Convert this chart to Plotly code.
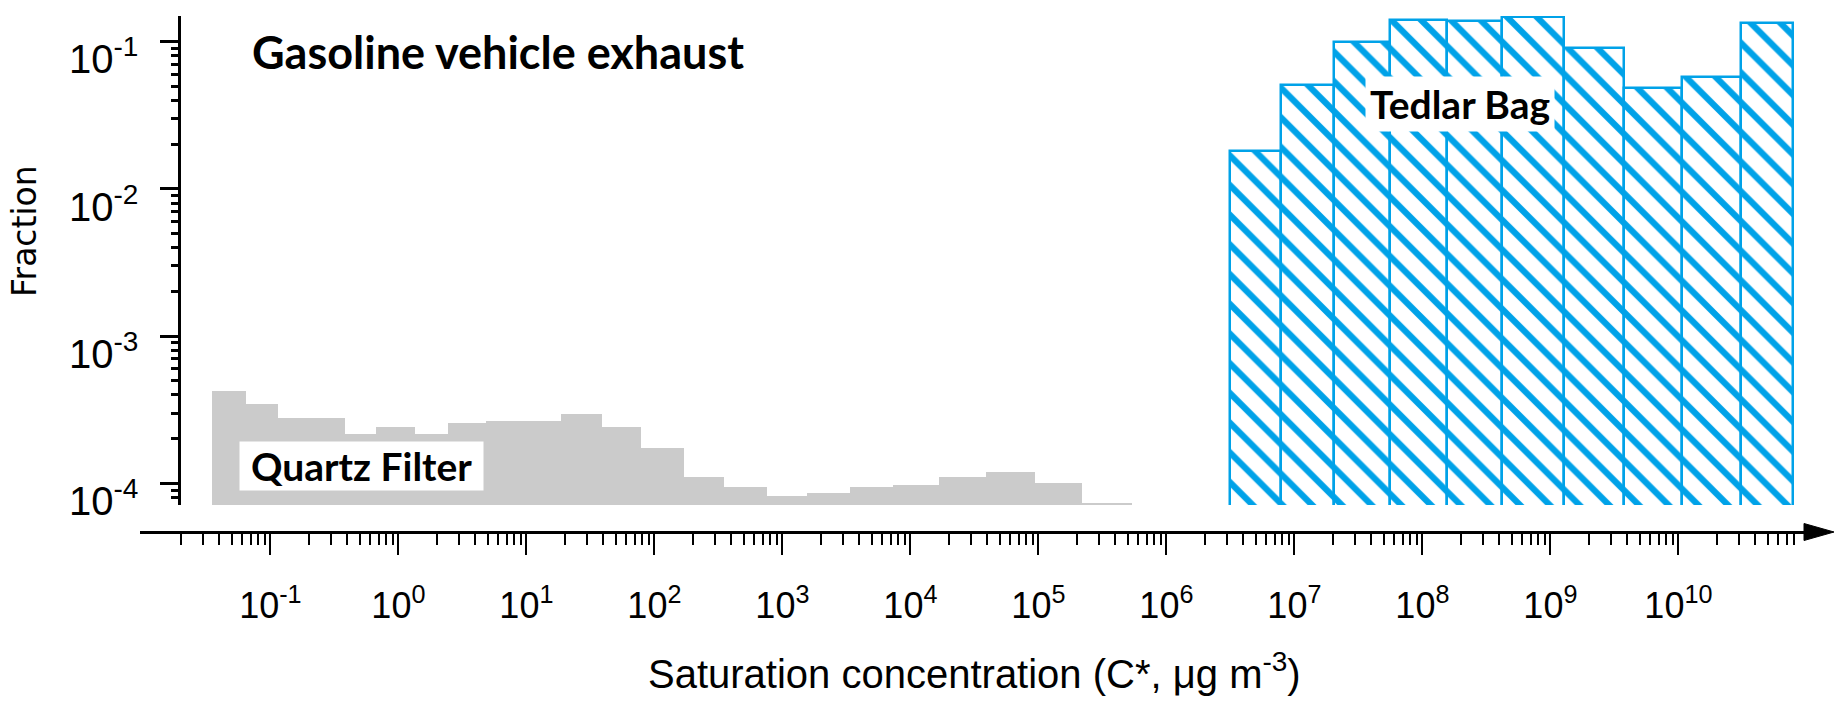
import numpy as np
import plotly.graph_objects as go

W, H = 1835, 701

# ---- data (bin edges given as log10 of C*, ug m-3) ----
quartz_edges_log = [-1.457, -1.193, -0.944, -0.421, -0.172, 0.127, 0.391, 0.685,
                    1.273, 1.587, 1.896, 2.230, 2.544, 2.877, 3.191, 3.530, 3.864,
                    4.223, 4.587, 4.970, 5.344, 5.732]
quartz_fraction = [4.24e-4, 3.44e-4, 2.79e-4, 2.15e-4, 2.43e-4, 2.15e-4, 2.56e-4,
                   2.65e-4, 2.98e-4, 2.43e-4, 1.74e-4, 1.10e-4, 9.4e-5, 8.2e-5,
                   8.6e-5, 9.4e-5, 9.7e-5, 1.10e-4, 1.19e-4, 1.01e-4, 7.3e-5]

tedlar_edges_log = [6.496, 6.896, 7.309, 7.749, 8.193, 8.623, 9.104, 9.575,
                    10.029, 10.490, 10.896]
tedlar_fraction = [0.0181, 0.0508, 0.100, 0.140, 0.139, 0.148, 0.091, 0.0488,
                   0.0573, 0.133]

x_tick_exponents = list(range(-1, 11))
y_tick_exponents = [-1, -2, -3, -4]

# ---- layout helpers (pixel -> paper) ----
def fx(px):
    return px / W

def fy(py):
    return 1 - py / H

X_RANGE = [-2.0188, 10.9969]
Y_RANGE = [-4.1474, -0.8254]

def centers_widths(edges):
    e = np.array(edges)
    return (e[:-1] + e[1:]) / 2, np.diff(e)

qc, qw = centers_widths(quartz_edges_log)
tc, tw = centers_widths(tedlar_edges_log)

BLUE = "#00A2E8"
GRAY = "#CBCBCB"
SANS = "Liberation Sans, Arial, sans-serif"
BOLD = "Lato, Open Sans, sans-serif"

fig = go.Figure()
fig.add_trace(go.Bar(x=qc, y=quartz_fraction, width=qw,
                     marker=dict(color=GRAY, line=dict(width=0)),
                     showlegend=False, hoverinfo="skip"))
fig.add_trace(go.Bar(x=tc, y=tedlar_fraction, width=tw,
                     marker=dict(color="white",
                                 line=dict(color=BLUE, width=2.5),
                                 pattern=dict(shape="\\", fgcolor=BLUE, bgcolor="white",
                                              fgopacity=1, size=21, solidity=0.3,
                                              fillmode="replace")),
                     showlegend=False, hoverinfo="skip"))

minor_x = [np.log10(m) + d for d in range(-2, 11) for m in range(2, 10)]
minor_x = [v for v in minor_x if X_RANGE[0] < v < 10.95]
minor_y = [m * 10.0 ** d for d in range(-5, 0) for m in range(2, 10)]

fig.update_layout(
    width=W, height=H,
    margin=dict(l=0, r=0, t=0, b=0),
    paper_bgcolor="white", plot_bgcolor="white",
    bargap=0,
    xaxis=dict(
        domain=[fx(140), fx(1806)], range=X_RANGE, anchor="free", position=fy(532),
        showline=True, linecolor="black", linewidth=3,
        showgrid=False, zeroline=False,
        ticks="outside", ticklen=21, tickwidth=2, tickcolor="black",
        tickmode="array", tickvals=x_tick_exponents,
        ticktext=[f"10<sup>{e}</sup>" for e in x_tick_exponents],
        tickfont=dict(family=SANS, size=36, color="black"),
        ticklabelstandoff=20,
        minor=dict(tickmode="array", tickvals=minor_x, ticks="outside",
                   ticklen=11, tickwidth=2, tickcolor="black", showgrid=False),
    ),
    yaxis=dict(
        type="log", domain=[fy(505), fy(16)], range=Y_RANGE,
        anchor="free", position=fx(179),
        showline=True, linecolor="black", linewidth=3,
        showgrid=False, zeroline=False,
        ticks="outside", ticklen=18, tickwidth=3, tickcolor="black",
        tickmode="array", tickvals=[10.0 ** e for e in y_tick_exponents],
        showticklabels=False,
        minor=dict(tickmode="array", tickvals=minor_y, ticks="outside",
                   ticklen=7, tickwidth=3, tickcolor="black", showgrid=False),
    ),
)

annotations = []
for e in y_tick_exponents:
    annotations.append(dict(
        text=f"10<sup>{e}</sup>", xref="paper", yref="y", x=fx(140), y=e - 0.1,
        xanchor="right", yanchor="middle", showarrow=False,
        font=dict(family=SANS, size=40, color="black")))

annotations += [
    dict(text="<b>Gasoline vehicle exhaust</b>", xref="paper", yref="paper",
         x=fx(250), y=fy(52), xanchor="left", yanchor="middle", showarrow=False,
         font=dict(family=BOLD, size=45, color="black")),
    dict(text="&nbsp;<b>Quartz Filter</b>&nbsp;", xref="x", yref="y", x=-0.286, y=-3.885,
         xanchor="center", yanchor="middle", showarrow=False, bgcolor="white",
         borderpad=1,
         font=dict(family=BOLD, size=39, color="black")),
    dict(text="<b>Tedlar Bag</b>", xref="x", yref="y", x=8.294, y=-1.425,
         xanchor="center", yanchor="middle", showarrow=False, bgcolor="white",
         borderpad=4,
         font=dict(family=BOLD, size=39, color="black")),
    dict(text="Fraction", xref="paper", yref="paper", x=fx(24), y=fy(231),
         xanchor="center", yanchor="middle", textangle=-90, showarrow=False,
         font=dict(family="DejaVu Sans, Verdana, sans-serif", size=33, color="black")),
    dict(text="Saturation concentration (C*, μg m<sup>-3</sup>)", xref="paper", yref="paper",
         x=fx(975), y=fy(671), xanchor="center", yanchor="middle", showarrow=False,
         font=dict(family=SANS, size=40, color="black")),
]
fig.update_layout(annotations=annotations)

# arrow head at the end of the x axis
fig.add_shape(type="path", xref="paper", yref="paper",
              path=f"M {fx(1804)},{fy(523.5)} L {fx(1834)},{fy(532)} L {fx(1804)},{fy(540.5)} Z",
              fillcolor="black", line=dict(color="black", width=1))

fig.write_html("out.html")
